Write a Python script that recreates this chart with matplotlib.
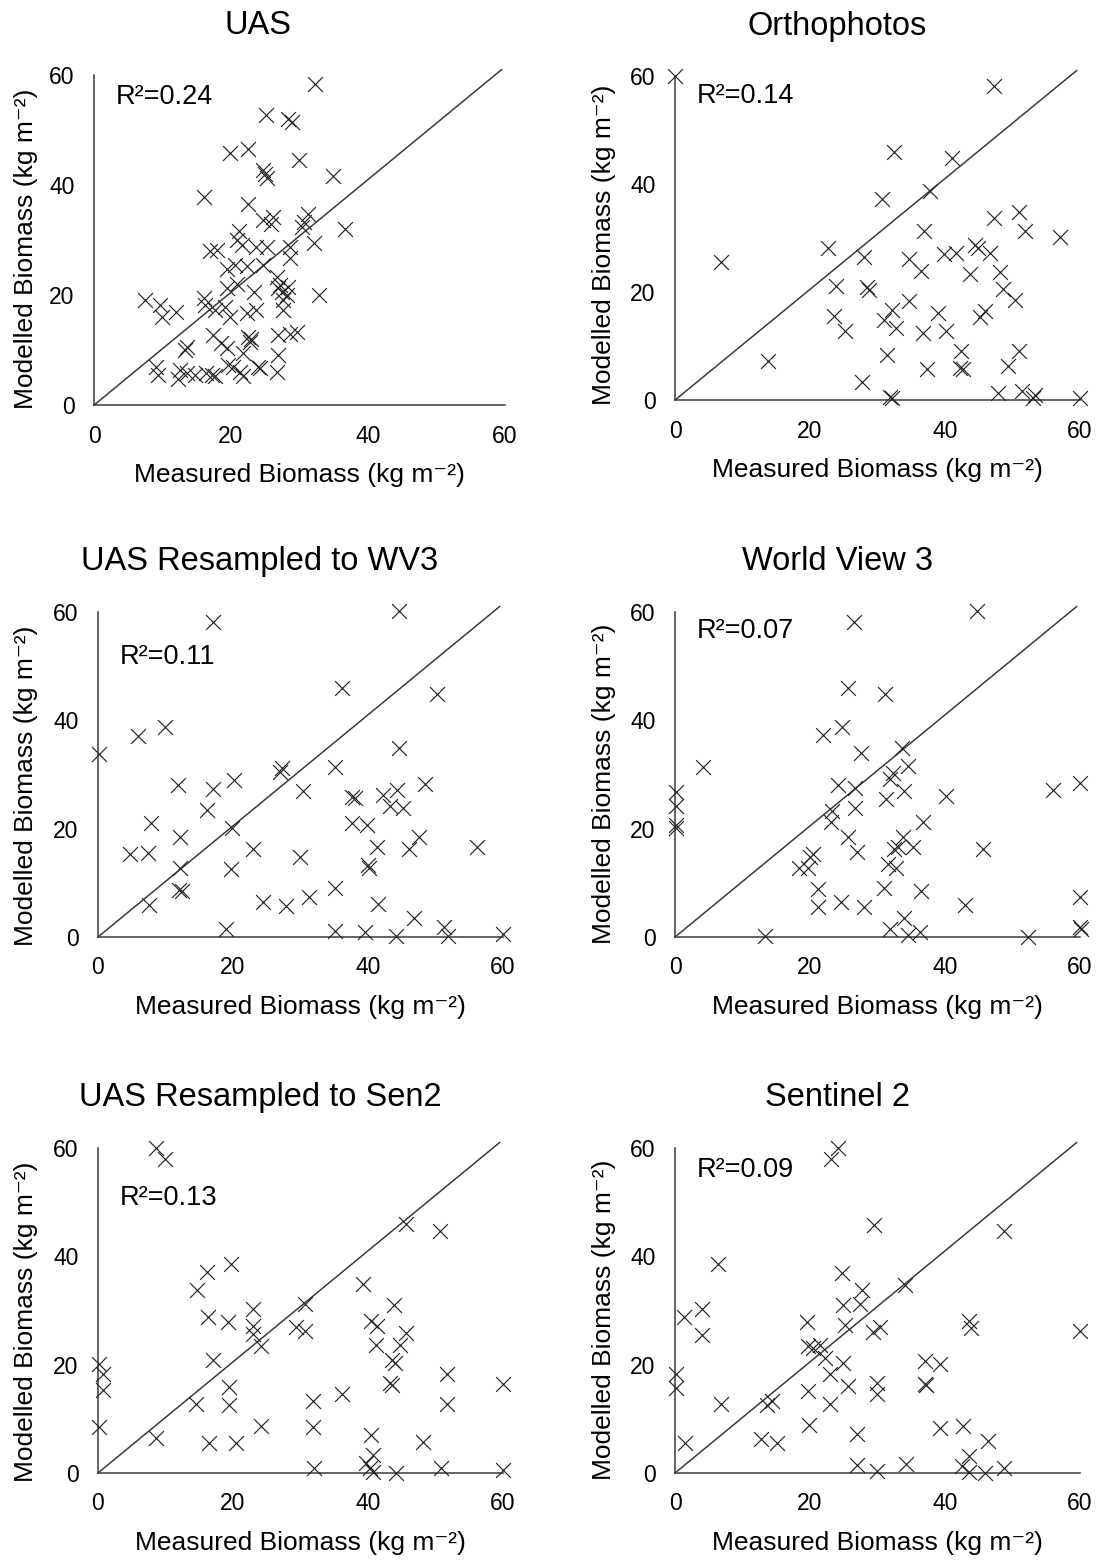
import matplotlib
matplotlib.use('Agg')
import matplotlib.pyplot as plt

plt.rcParams['font.family'] = ['Liberation Sans', 'DejaVu Sans']

titles = ['UAS', 'Orthophotos', 'UAS Resampled to WV3', 'World View 3',
          'UAS Resampled to Sen2', 'Sentinel 2']
r2_values = [0.24, 0.14, 0.11, 0.07, 0.13, 0.09]
r2_y = [56.0, 56.3, 51.7, 56.5, 50.7, 55.9]
ticks = [0, 20, 40, 60]

# UAS
uas_meas = [32.3, 25.1, 28.3, 28.9, 19.8, 22.5, 29.9, 24.6, 25.0, 25.2, 34.9, 16.0,
            22.5, 26.1, 24.7, 25.9, 31.3, 30.6, 30.3, 36.6, 32.1, 21.1, 20.8, 21.6,
            16.9, 17.9, 23.7, 25.2, 28.6, 28.6, 24.7, 19.4, 20.6, 22.3, 26.7, 19.4,
            20.8, 23.3, 26.9, 27.4, 28.1, 27.6, 32.8, 7.4, 9.6, 9.9, 12.0, 16.0,
            16.2, 17.7, 19.1, 19.9, 22.3, 23.7, 27.6, 29.6, 28.6, 26.9, 17.4, 18.6,
            19.4, 22.5, 22.8, 13.6, 13.3, 26.9, 21.8, 20.3, 21.3, 24.0, 24.2, 9.1,
            9.4, 12.6, 12.3, 13.5, 16.4, 17.7, 17.2, 19.6, 21.8, 26.7, 14.7, 27.2,
            28.3, 22.9]
uas_mod = [58.4, 52.7, 52.1, 51.4, 45.9, 46.5, 44.5, 42.7, 42.1, 41.3, 41.6, 37.9,
           36.5, 34.2, 33.6, 33.0, 34.8, 33.3, 32.4, 32.0, 29.5, 31.7, 30.0, 29.1,
           28.0, 28.2, 28.8, 28.8, 28.8, 26.7, 25.5, 24.8, 25.5, 25.2, 23.3, 21.2,
           22.1, 20.6, 21.2, 20.6, 20.0, 19.1, 20.0, 19.1, 18.2, 16.1, 17.0, 19.4,
           18.2, 17.3, 17.9, 16.1, 16.7, 17.3, 17.3, 13.3, 13.0, 12.7, 12.7, 11.2,
           10.3, 12.4, 11.5, 10.6, 10.0, 9.1, 9.4, 7.0, 6.1, 7.0, 6.7, 7.0,
           5.5, 6.4, 4.8, 5.8, 5.8, 5.2, 5.5, 7.3, 5.2, 6.1, 5.5, 21.8,
           21.5, 12.0]

# Orthophotos
ortho_meas = [0.0, 47.2, 32.5, 41.0, 37.8, 30.6, 47.2, 50.9, 51.8, 57.0, 36.9, 22.7,
              28.0, 6.8, 34.6, 36.5, 39.8, 41.7, 44.4, 44.9, 46.7, 43.7, 48.1, 48.6,
              50.4, 23.8, 28.4, 28.7, 34.6, 23.6, 25.2, 32.2, 30.9, 32.8, 39.0, 40.2,
              36.8, 45.2, 45.9, 31.4, 42.4, 50.9, 13.8, 37.3, 42.2, 42.7, 49.4, 27.7,
              31.9, 32.1, 47.9, 51.4, 53.1, 53.3, 60.0]
ortho_mod = [60.0, 58.2, 45.9, 44.8, 38.7, 37.2, 33.8, 34.9, 31.3, 30.2, 31.3, 28.2,
             26.4, 25.5, 26.1, 23.9, 27.0, 27.3, 28.7, 28.1, 27.2, 23.3, 23.8, 20.6,
             18.5, 21.1, 21.0, 20.4, 18.4, 15.6, 12.8, 16.7, 14.8, 13.4, 16.2, 12.8,
             12.5, 15.4, 16.4, 8.3, 9.1, 9.0, 7.3, 5.7, 6.0, 5.7, 6.4, 3.3,
             0.6, 0.3, 1.4, 1.7, 0.3, 1.0, 0.3]

# UAS resampled to WV3
wv3r_meas = [44.6, 17.0, 36.2, 50.3, 6.0, 9.9, 0.1, 44.6, 27.2, 27.0, 35.1, 11.9,
             17.0, 20.2, 30.4, 37.6, 38.1, 42.3, 44.3, 48.4, 43.3, 45.2, 16.2, 7.9,
             37.6, 39.9, 12.1, 19.8, 41.3, 46.1, 47.6, 56.1, 4.7, 7.4, 22.9, 29.9,
             12.1, 19.7, 40.0, 40.2, 12.0, 12.5, 7.5, 24.5, 27.9, 31.3, 35.1, 41.5,
             46.8, 18.9, 35.1, 39.6, 44.1, 51.3, 51.9, 60.0]
wv3r_mod = [60.1, 58.2, 46.0, 44.8, 37.1, 38.8, 33.8, 34.9, 31.2, 30.4, 31.4, 28.0,
            27.3, 28.9, 26.9, 25.9, 25.6, 26.3, 27.2, 28.3, 24.1, 23.8, 23.4, 21.0,
            21.0, 20.6, 18.4, 20.2, 16.7, 16.2, 18.5, 16.7, 15.4, 15.5, 16.2, 14.8,
            12.7, 12.5, 13.3, 12.7, 8.7, 8.4, 5.9, 6.5, 5.7, 7.3, 9.0, 6.0,
            3.5, 1.4, 1.1, 0.9, 0.2, 1.9, 0.1, 0.5]

# World View 3
wv3_meas = [44.7, 26.5, 25.6, 31.1, 21.9, 24.7, 4.1, 27.6, 33.6, 34.5, 32.3, 31.9,
            34.0, 24.1, 26.6, 31.3, 40.2, 56.0, 60.0, 0.2, 0.2, 0.2, 0.2, 26.7,
            23.2, 23.1, 36.8, 25.7, 33.8, 33.1, 35.3, 32.5, 45.7, 26.9, 20.5, 20.0,
            18.3, 19.7, 31.5, 32.8, 30.9, 36.5, 21.2, 21.2, 24.6, 28.0, 42.9, 60.0,
            34.0, 31.9, 34.5, 36.3, 13.3, 52.3, 60.0, 60.1]
wv3_mod = [60.1, 58.2, 46.0, 44.9, 37.2, 38.8, 31.4, 33.9, 34.9, 31.5, 30.3, 29.1,
           26.9, 28.0, 27.5, 25.5, 26.1, 27.2, 28.5, 26.7, 24.1, 20.6, 20.1, 23.8,
           23.2, 21.2, 21.2, 18.5, 18.5, 16.7, 16.7, 16.2, 16.2, 15.6, 15.4, 14.8,
           12.8, 12.7, 13.5, 12.8, 9.0, 8.4, 8.8, 5.6, 6.4, 5.6, 5.9, 7.3,
           3.5, 1.4, 0.4, 1.0, 0.1, 0.0, 1.9, 1.4]

# UAS resampled to Sen2
sen2r_meas = [8.6, 9.9, 45.7, 50.7, 19.7, 16.2, 14.6, 39.3, 30.7, 43.9, 22.9, 16.3,
              19.3, 22.9, 22.9, 24.2, 29.4, 30.7, 40.5, 41.3, 45.7, 44.7, 41.2, 17.1,
              43.5, 44.0, 43.3, 43.5, 19.4, 19.4, 0.2, 0.8, 0.7, 0.2, 14.5, 36.2,
              31.8, 51.7, 51.7, 60.0, 24.2, 31.8, 8.6, 16.5, 20.4, 40.4, 48.1, 40.7,
              39.7, 40.3, 40.7, 32.0, 44.1, 50.8, 60.0]
sen2r_mod = [60.0, 58.0, 45.9, 44.7, 38.6, 37.1, 33.7, 34.8, 31.2, 31.1, 30.2, 28.8,
             27.8, 27.2, 25.6, 23.4, 26.9, 26.2, 28.0, 27.1, 25.9, 23.7, 23.7, 20.9,
             20.9, 20.3, 16.6, 16.3, 15.8, 12.5, 20.1, 18.3, 15.4, 8.4, 12.7, 14.6,
             13.2, 18.3, 12.7, 16.4, 8.7, 8.5, 6.4, 5.5, 5.5, 7.0, 5.8, 3.3,
             1.8, 1.0, 0.1, 1.0, 0.0, 0.9, 0.6]

# Sentinel 2
sen2_meas = [24.1, 23.1, 29.5, 48.8, 6.3, 24.7, 27.7, 27.4, 24.9, 34.1, 1.4, 4.0,
             4.0, 25.2, 19.5, 29.4, 30.4, 43.5, 43.9, 60.0, 19.7, 21.5, 20.5, 22.2,
             24.9, 23.0, 37.0, 39.3, 37.0, 37.2, 0.2, 0.2, 25.6, 30.0, 30.0, 19.7,
             6.8, 13.6, 14.3, 23.0, 19.9, 26.9, 39.3, 42.6, 12.8, 15.1, 1.5, 46.3,
             43.5, 26.9, 30.0, 34.2, 42.5, 43.6, 46.0, 48.8]
sen2_mod = [60.0, 58.0, 45.8, 44.7, 38.6, 37.0, 33.7, 31.2, 31.1, 34.7, 28.8, 30.2,
            25.4, 27.4, 27.8, 26.0, 26.9, 28.0, 26.8, 26.2, 23.4, 23.7, 23.1, 21.2,
            20.3, 18.3, 20.7, 20.1, 16.4, 16.2, 18.3, 15.7, 16.0, 16.6, 14.6, 15.2,
            12.7, 12.6, 13.2, 12.7, 8.9, 7.2, 8.3, 8.6, 6.3, 5.5, 5.6, 5.9,
            3.2, 1.5, 0.4, 1.6, 1.2, 0.2, 0.0, 0.9]

measured = [uas_meas, ortho_meas, wv3r_meas, wv3_meas, sen2r_meas, sen2_meas]
modelled = [uas_mod, ortho_mod, wv3r_mod, wv3_mod, sen2r_mod, sen2_mod]

# axes boxes in figure fraction (left, bottom, width, height)
boxes = [(0.0854, 0.7410, 0.3733, 0.2110),
         (0.6131, 0.7442, 0.3678, 0.2072),
         (0.0890, 0.4009, 0.3678, 0.2078),
         (0.6131, 0.4009, 0.3678, 0.2078),
         (0.0890, 0.0582, 0.3678, 0.2078),
         (0.6131, 0.0582, 0.3678, 0.2078)]
# y label anchor (axes fraction)
ylab_x = [-0.136, -0.146, -0.148, -0.146, -0.148, -0.146]
ylab_y = [0.475, 0.478, 0.466, 0.47, 0.466, 0.47]

dark = '#3a3a3a'
fig = plt.figure(figsize=(11.01, 15.64), dpi=100)

for i in range(6):
    ax = fig.add_axes(boxes[i])
    # 1:1 line
    ax.plot([0, 59.5], [0, 61], color=dark, lw=1.1, clip_on=False, zorder=2)
    ax.scatter(measured[i], modelled[i], marker='x', s=115, c='#262626',
               linewidths=0.85, clip_on=False, zorder=3)
    ax.set_xlim(0, 60)
    ax.set_ylim(0, 60)
    ax.set_xticks(ticks)
    ax.set_yticks(ticks)
    ax.tick_params(length=0, pad=14, labelsize=16.5)
    for side in ['top', 'right']:
        ax.spines[side].set_visible(False)
    for side in ['left', 'bottom']:
        ax.spines[side].set_color(dark)
        ax.spines[side].set_linewidth(1.1)
    ax.set_xlabel('Measured Biomass (kg m⁻²)', fontsize=19, labelpad=11)
    ax.set_ylabel('Modelled Biomass (kg m⁻²)', fontsize=19)
    ax.yaxis.set_label_coords(ylab_x[i], ylab_y[i])
    ax.text(3.2, r2_y[i], f'R²={r2_values[i]:.2f}', fontsize=19.5, va='center')
    ax.annotate(titles[i], xy=(0.40, 1.0), xycoords='axes fraction',
                xytext=(0, 36), textcoords='offset points',
                ha='center', va='center', fontsize=23.5)

plt.savefig('out.png', dpi=100)
